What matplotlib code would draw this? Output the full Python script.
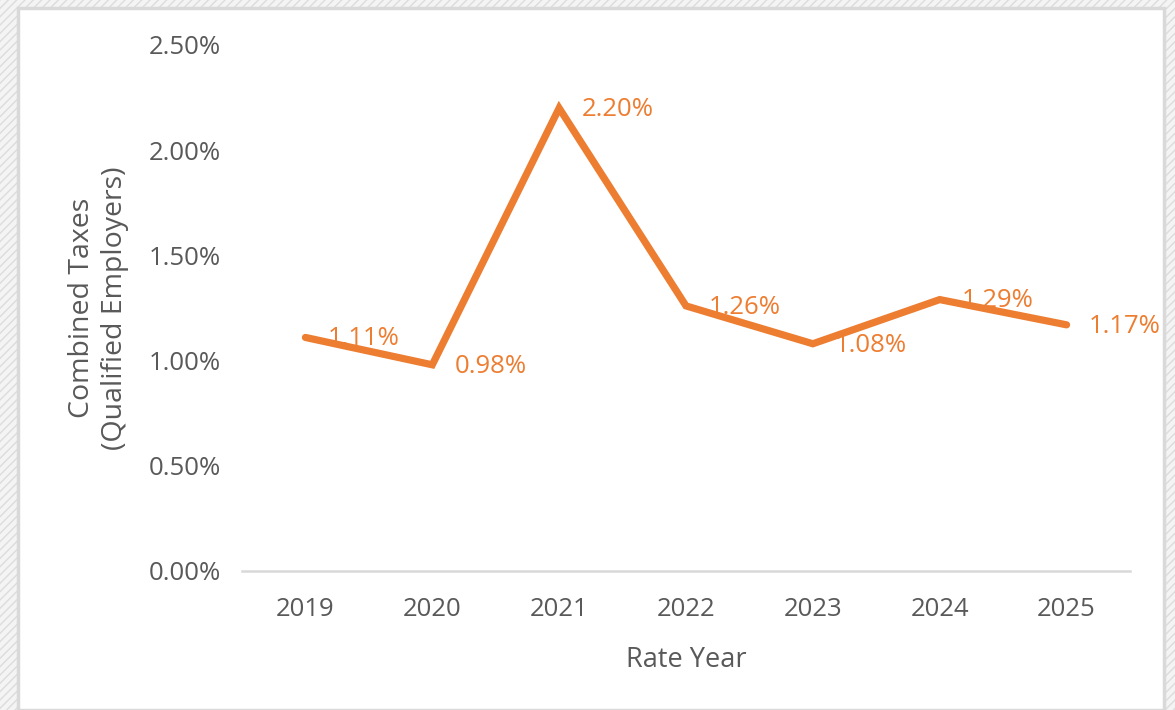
import matplotlib
matplotlib.use("Agg")
import matplotlib.pyplot as plt
from matplotlib.patches import Rectangle

years = ["2019", "2020", "2021", "2022", "2023", "2024", "2025"]
rates = [1.11, 0.98, 2.20, 1.26, 1.08, 1.29, 1.17]
y_ticks = [0.0, 0.5, 1.0, 1.5, 2.0, 2.5]
y_tick_labels = ["0.00%", "0.50%", "1.00%", "1.50%", "2.00%", "2.50%"]
data_labels = ["1.11%", "0.98%", "2.20%", "1.26%", "1.08%", "1.29%", "1.17%"]

plt.rcParams['font.family'] = ['Open Sans', 'DejaVu Sans']
plt.rcParams['hatch.color'] = '#DCDCDC'
W, H = 1175, 710
fig = plt.figure(figsize=(W / 100, H / 100), dpi=100)
fig.patch.set_facecolor('white')

# hatched outer background
bg = Rectangle((0, 0), 1, 1, transform=fig.transFigure, facecolor='#F4F4F4',
               edgecolor='#DCDCDC', hatch='////', linewidth=0, zorder=-10)
fig.patches.append(bg)
# white panel with gray border
panel = Rectangle((17.5 / W, 0), (1163.5 - 17.5) / W, (H - 7.5) / H,
                  transform=fig.transFigure, facecolor='white',
                  edgecolor='#D9D9D9', linewidth=2.5, zorder=-5)
fig.patches.append(panel)

ax = fig.add_axes([242 / W, 1 - 571 / H, (1130 - 242) / W, (571 - 45) / H])
ax.set_facecolor('none')
x = list(range(len(years)))
orange = '#ED7D31'
gray = '#595959'
ax.plot(x, rates, color=orange, linewidth=5.2, solid_joinstyle='miter',
        solid_capstyle='round', zorder=5)
for xi, yi, lab in zip(x, rates, data_labels):
    ax.annotate(lab, (xi, yi), xytext=(16, -1), textcoords='offset points',
                ha='left', va='center', color=orange, fontsize=18.5, zorder=3)

ax.set_xlim(-0.5, len(years) - 0.5)
ax.set_ylim(0, 2.5)
ax.set_xticks(x)
ax.set_xticklabels(years)
ax.set_yticks(y_ticks)
ax.set_yticklabels(y_tick_labels)
ax.tick_params(axis='both', length=0, labelsize=18.5, labelcolor=gray)
ax.tick_params(axis='x', pad=19)
ax.tick_params(axis='y', pad=15)
for s in ['top', 'right', 'left']:
    ax.spines[s].set_visible(False)
ax.spines['bottom'].set_color('#D9D9D9')
ax.spines['bottom'].set_linewidth(1.8)
ax.set_xlabel('Rate Year', fontsize=19.5, color=gray, labelpad=17)
ax.set_ylabel('Combined Taxes\n(Qualified Employers)', fontsize=20.5, color=gray,
              labelpad=14, linespacing=1.25)

fig.savefig('out.png', dpi=100)
